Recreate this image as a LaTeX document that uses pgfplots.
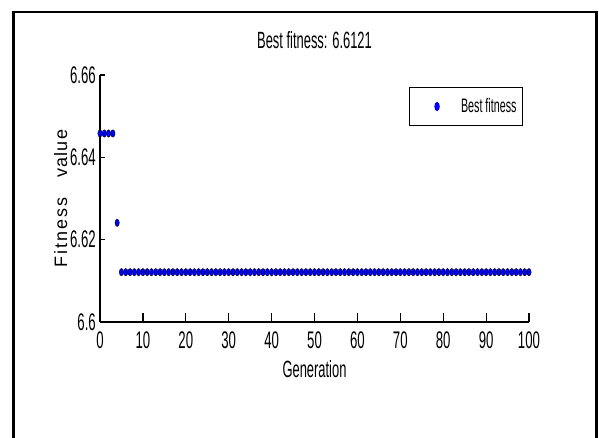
\documentclass[border=0pt]{standalone}
\usepackage{fontspec}
\setmainfont{Liberation Sans}[FakeStretch=0.55]
\newfontfamily\ylabfont{Liberation Sans}
\usepackage{pgfplots}
\pgfplotsset{compat=1.18}

\begin{document}
\begin{tikzpicture}
\useasboundingbox (-100pt,-116pt) rectangle (499pt,322pt);
\begin{axis}[
  at={(0pt,0pt)}, anchor=south west,
  scale only axis, width=429pt, height=247pt,
  xmin=0, xmax=100, ymin=6.6, ymax=6.66,
  clip=false,
  axis x line*=bottom, axis y line*=left,
  axis line style={-, line width=1.2pt, black},
  tick align=inside,
  xtick={0,10,...,100},
  ytick={6.6,6.62,6.64,6.66},
  yticklabels={6.6,6.62,6.64,6.66},
  scaled y ticks=false,
  minor tick num=0,
  xtick style={line width=1.2pt, black, /pgfplots/major tick length=8.5pt},
  ytick style={line width=1.2pt, black, /pgfplots/major tick length=4.5pt},
  /pgf/number format/assume math mode=true,
  ticklabel style={font=\fontsize{24}{24}\selectfont},
  xticklabel style={inner sep=0pt, anchor=north, yshift=-10pt},
  yticklabel style={inner sep=0pt, anchor=east, xshift=-4pt},
  title={Best fitness: 6.6121},
  title style={font=\fontsize{23.5}{24}\selectfont, at={(axis description cs:0.5,1)}, anchor=base, yshift=21pt, inner sep=0pt},
  xlabel={Generation},
  xlabel style={font=\fontsize{23.5}{24}\selectfont, at={(axis description cs:0.5,0)}, anchor=base, yshift=-56pt, inner sep=0pt},
  ylabel={F\kern2pt i\kern2pt t\kern2pt n\kern2pt e\kern2pt s\kern2pt s\hspace{20pt}v\kern1pt a\kern1pt l\kern1pt u\kern1pt e},
  ylabel style={font=\ylabfont\fontsize{18}{18}\selectfont, at={(axis description cs:-0.0769,0.5)}, anchor=base, inner sep=0pt},
  legend style={at={(1,1)}, anchor=north east, xshift=-6pt, yshift=-12pt,
    draw=black, line width=1pt, inner sep=0pt,
    font=\fontsize{19.5}{20}\selectfont,
    column sep=0pt, nodes={inner sep=0pt}, cells={anchor=west}},
]
\addplot[only marks, mark=*, mark size=3.7pt,
  mark options={draw=none, fill=blue, xscale=0.59},
  legend image code/.code={
    \path[draw=none, fill=none] (0pt,-19pt) rectangle (52pt,19pt);
    \fill[blue] (28pt,0pt) ellipse [x radius=2.2pt, y radius=4pt];
  }]
coordinates {
(0,6.6458) (1,6.6458) (2,6.6458) (3,6.6458) (4,6.6241)
(5,6.6121) (6,6.6121) (7,6.6121) (8,6.6121) (9,6.6121)
(10,6.6121) (11,6.6121) (12,6.6121) (13,6.6121) (14,6.6121)
(15,6.6121) (16,6.6121) (17,6.6121) (18,6.6121) (19,6.6121)
(20,6.6121) (21,6.6121) (22,6.6121) (23,6.6121) (24,6.6121)
(25,6.6121) (26,6.6121) (27,6.6121) (28,6.6121) (29,6.6121)
(30,6.6121) (31,6.6121) (32,6.6121) (33,6.6121) (34,6.6121)
(35,6.6121) (36,6.6121) (37,6.6121) (38,6.6121) (39,6.6121)
(40,6.6121) (41,6.6121) (42,6.6121) (43,6.6121) (44,6.6121)
(45,6.6121) (46,6.6121) (47,6.6121) (48,6.6121) (49,6.6121)
(50,6.6121) (51,6.6121) (52,6.6121) (53,6.6121) (54,6.6121)
(55,6.6121) (56,6.6121) (57,6.6121) (58,6.6121) (59,6.6121)
(60,6.6121) (61,6.6121) (62,6.6121) (63,6.6121) (64,6.6121)
(65,6.6121) (66,6.6121) (67,6.6121) (68,6.6121) (69,6.6121)
(70,6.6121) (71,6.6121) (72,6.6121) (73,6.6121) (74,6.6121)
(75,6.6121) (76,6.6121) (77,6.6121) (78,6.6121) (79,6.6121)
(80,6.6121) (81,6.6121) (82,6.6121) (83,6.6121) (84,6.6121)
(85,6.6121) (86,6.6121) (87,6.6121) (88,6.6121) (89,6.6121)
(90,6.6121) (91,6.6121) (92,6.6121) (93,6.6121) (94,6.6121)
(95,6.6121) (96,6.6121) (97,6.6121) (98,6.6121) (99,6.6121)
(100,6.6121)
};
\addlegendentry{Best fitness\rule{6pt}{0pt}}
\end{axis}
% outer figure frame (open at the bottom edge)
\draw[line width=2.5pt] (-86.3pt,-116pt) -- (-86.3pt,309.8pt) -- (496.3pt,309.8pt) -- (496.3pt,-116pt);
\end{tikzpicture}
\end{document}
